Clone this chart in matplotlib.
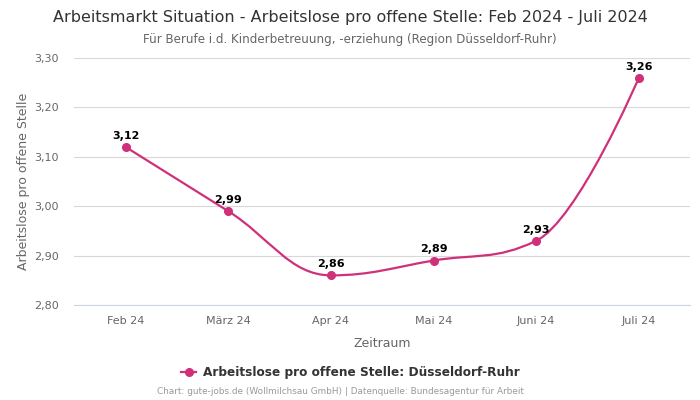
import matplotlib
matplotlib.use("Agg")
import matplotlib.pyplot as plt
from matplotlib.path import Path
from matplotlib.patches import PathPatch
from matplotlib.lines import Line2D

months = ["Feb 24", "März 24", "Apr 24", "Mai 24", "Juni 24", "Juli 24"]
values = [3.12, 2.99, 2.86, 2.89, 2.93, 3.26]
yticks = [2.80, 2.90, 3.00, 3.10, 3.20, 3.30]

color = "#d0307a"


def spline_path(xs, ys, smoothing=1.5, denom=2.5):
    # Highcharts-like spline control points
    verts = [(xs[0], ys[0])]
    codes = [Path.MOVETO]
    ctrl = []
    n = len(xs)
    for i in range(n):
        if 0 < i < n - 1:
            x, y = xs[i], ys[i]
            lx, ly = xs[i - 1], ys[i - 1]
            nx, ny = xs[i + 1], ys[i + 1]
            lcx = (smoothing * x + lx) / denom
            lcy = (smoothing * y + ly) / denom
            rcx = (smoothing * x + nx) / denom
            rcy = (smoothing * y + ny) / denom
            corr = ((rcy - lcy) * (rcx - x)) / (rcx - lcx) + y - rcy
            lcy += corr
            rcy += corr
            if lcy > max(ly, y):
                lcy = max(ly, y)
                rcy = 2 * y - lcy
            elif lcy < min(ly, y):
                lcy = min(ly, y)
                rcy = 2 * y - lcy
            if rcy > max(ny, y):
                rcy = max(ny, y)
                lcy = 2 * y - rcy
            elif rcy < min(ny, y):
                rcy = min(ny, y)
                lcy = 2 * y - rcy
            ctrl.append(((lcx, lcy), (rcx, rcy)))
        else:
            ctrl.append(((xs[i], ys[i]), (xs[i], ys[i])))
    for i in range(1, n):
        verts += [ctrl[i - 1][1], ctrl[i][0], (xs[i], ys[i])]
        codes += [Path.CURVE4] * 3
    return Path(verts, codes)


fig = plt.figure(figsize=(7, 4), dpi=100)
ax = fig.add_axes([0.106, 0.2375, 0.88, 0.6175])

xs = list(range(len(months)))
ax.add_patch(PathPatch(spline_path(xs, values), fill=False, edgecolor=color, lw=1.6, zorder=3))
ax.plot(xs, values, "o", color=color, markersize=5.5, zorder=4)

for x, v in zip(xs, values):
    ax.annotate(f"{v:.2f}".replace(".", ","), (x, v), xytext=(0, 4.5), textcoords="offset points",
                ha="center", va="bottom", fontsize=8, fontweight="bold", color="black")

ax.set_xlim(-0.5, len(months) - 0.5)
ax.set_ylim(2.80, 3.30)
ax.set_yticks(yticks)
ax.set_yticklabels([f"{t:.2f}".replace(".", ",") for t in yticks])
ax.set_xticks(xs)
ax.set_xticklabels(months)
ax.tick_params(axis="both", length=0, labelsize=8, colors="#666666", pad=8)
ax.tick_params(axis="y", pad=11)
ax.grid(axis="y", color="#d8d8d8", lw=0.8)
ax.set_axisbelow(True)
for s in ["top", "right", "left"]:
    ax.spines[s].set_visible(False)
ax.spines["bottom"].set_color("#ccd6eb")

ax.set_xlabel("Zeitraum", fontsize=9, color="#666666", labelpad=8)
ax.set_ylabel("Arbeitslose pro offene Stelle", fontsize=9, color="#666666", labelpad=3)

fig.text(0.5, 0.957, "Arbeitsmarkt Situation - Arbeitslose pro offene Stelle: Feb 2024 - Juli 2024",
         ha="center", va="center", fontsize=11.5, color="#333333")
fig.text(0.5, 0.902, "Für Berufe i.d. Kinderbetreuung, -erziehung (Region Düsseldorf-Ruhr)",
         ha="center", va="center", fontsize=8.6, color="#666666")

handle = Line2D([], [], color=color, marker="o", markersize=5.5, lw=1.6)
fig.legend([handle], ["Arbeitslose pro offene Stelle: Düsseldorf-Ruhr"], loc="center",
           bbox_to_anchor=(0.5, 0.068), frameon=False, handlelength=1.3, handletextpad=0.5,
           prop={"size": 8.7, "weight": "bold"}, labelcolor="#333333")
fig.text(0.486, 0.02, "Chart: gute-jobs.de (Wollmilchsau GmbH) | Datenquelle: Bundesagentur für Arbeit",
         ha="center", va="center", fontsize=6.4, color="#999999")

fig.savefig("out.png", dpi=100)
